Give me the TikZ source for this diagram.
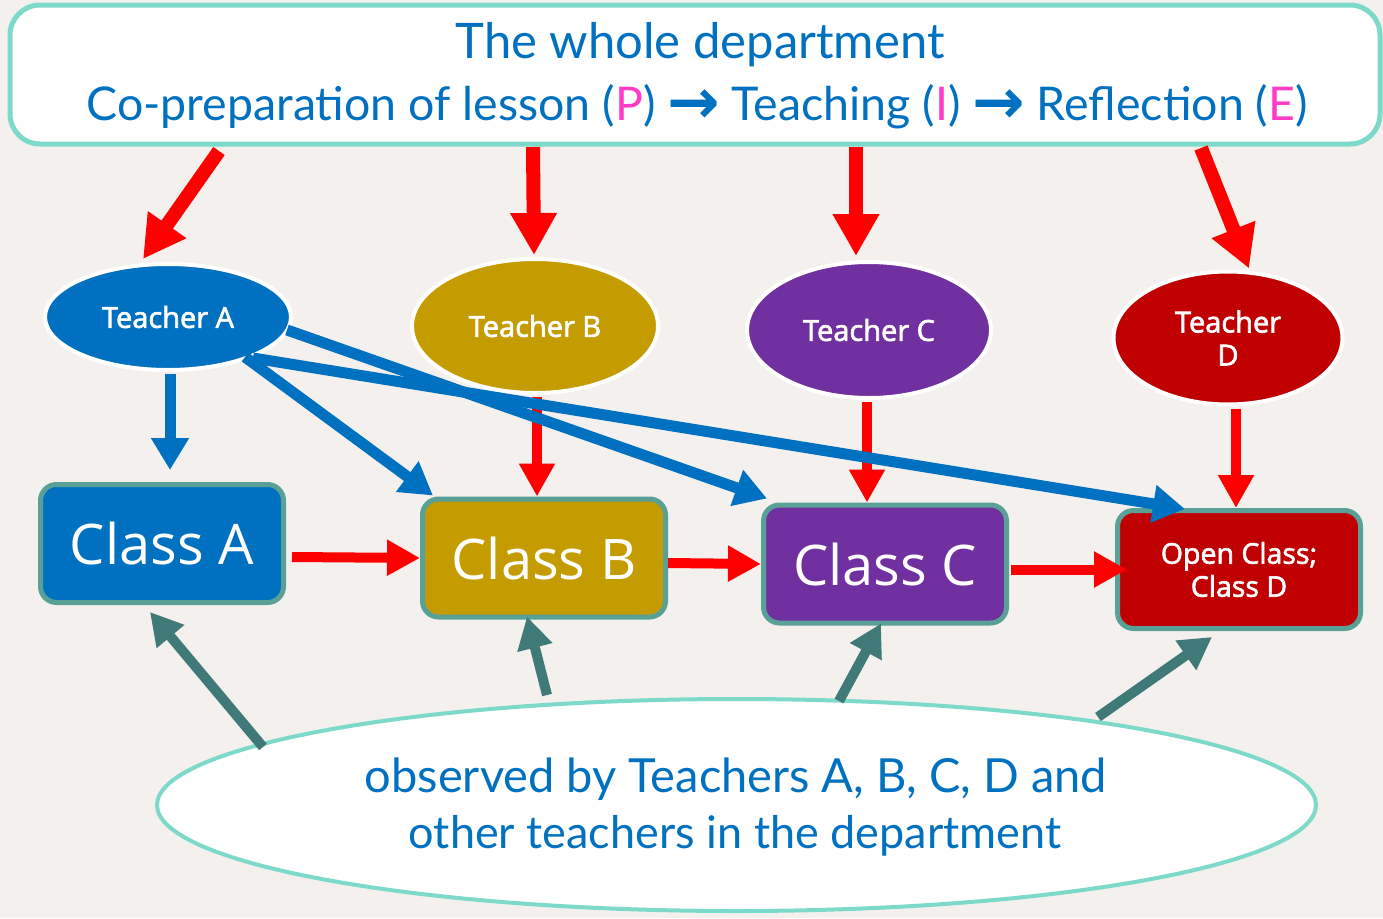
\documentclass[tikz,border=0pt]{standalone}
\usepackage{fontspec}
\setmainfont{Open Sans}
\newfontfamily\semib[FakeBold=2.2]{Open Sans}
\newfontfamily\handfont{Lato}
\newfontfamily\symfont{DejaVu Sans}
\usetikzlibrary{arrows.meta,shapes.geometric,calc}
\definecolor{bgc}{HTML}{F3F0ED}
\definecolor{frame}{HTML}{7DDACB}
\definecolor{boxedge}{HTML}{59A096}
\definecolor{tealarrow}{HTML}{407A78}
\definecolor{cblue}{HTML}{0070C0}
\definecolor{cgold}{HTML}{C49C00}
\definecolor{cpurple}{HTML}{7030A0}
\definecolor{cred}{HTML}{C00000}
\definecolor{pinkc}{HTML}{FF3CC8}
\definecolor{handblue}{HTML}{0070C0}
\definecolor{rarrow}{HTML}{FF0000}
\tikzset{
  teacher/.style={ellipse, draw=white, line width=4pt, inner sep=0pt, text=white,
    font=\semib\fontsize{29}{33}\selectfont, align=center},
  classbox/.style={rectangle, rounded corners=16pt, draw=boxedge, line width=5pt,
    minimum width=243pt, minimum height=118pt, inner sep=0pt, text=white, align=center},
  redbig/.style={draw=rarrow, line width=14pt, -{Triangle[width=44pt,length=42pt]}},
  redsmall/.style={draw=rarrow, line width=10pt, -{Triangle[width=34pt,length=33pt]}},
  bluearr/.style={draw=cblue, line width=11pt, -{Triangle[width=36pt,length=32pt]}},
  tealarr/.style={draw=tealarrow, line width=10pt, -{Triangle[width=34pt,length=32pt]}},
  hand/.style={text=handblue, inner sep=0pt, anchor=base},
}
\newcommand{\steparrow}{\raisebox{-0.08em}{\scalebox{1.35}{\symfont\bfseries →}}}
\begin{document}
\begin{tikzpicture}[x=1pt,y=-1pt]
\useasboundingbox[fill=bgc] (0,0) rectangle (1383,918);

% top frame
\node[draw=frame, line width=5pt, fill=white, rounded corners=30pt,
      minimum width=1370pt, minimum height=139pt, inner sep=0pt] (dept) at (695,74.5) {};
\node[hand, font=\handfont\fontsize{49}{54}\selectfont] (title) at (700,58) {The whole department};
\node[hand, font=\handfont\fontsize{46.5}{52}\selectfont] (steps) at (697,120)
  {Co-preparation of lesson (\textcolor{pinkc}{P}) \steparrow{} Teaching (\textcolor{pinkc}{I}) \steparrow{} Reflection (\textcolor{pinkc}{E})};

% teachers
\node[teacher, fill=cblue,   minimum width=246pt, minimum height=106pt] (tA) at (168,317) {Teacher A};
\node[teacher, fill=cgold,   minimum width=246pt, minimum height=134pt] (tB) at (535,326) {Teacher B};
\node[teacher, fill=cpurple, minimum width=244pt, minimum height=136pt] (tC) at (869,330) {Teacher C};
\node[teacher, fill=cred,    minimum width=229pt, minimum height=133pt] (tD) at (1228,338) {Teacher\\D};

% classes
\node[classbox, fill=cblue,   font=\fontsize{56}{60}\selectfont] (cA) at (162,543.5) {Class A};
\node[classbox, fill=cgold,   font=\fontsize{56}{60}\selectfont] (cB) at (544,558) {Class B};
\node[classbox, fill=cpurple, font=\fontsize{56}{60}\selectfont] (cC) at (885,564) {Class C};
\node[classbox, fill=cred,    font=\semib\fontsize{28.5}{33}\selectfont] (cD) at (1239,569.5) {Open Class;\\Class D};

% observers
\node[ellipse, draw=frame, line width=4pt, fill=white, minimum width=1159pt,
      minimum height=212pt, inner sep=0pt] (obs) at (736.5,805) {};
\node[hand, font=\handfont\fontsize{47}{52}\selectfont] (obs1) at (736,792) {observed by Teachers A, B, C, D and};
\node[hand, font=\handfont\fontsize{45}{50}\selectfont] (obs2) at (735,848) {other teachers in the department};

% red arrows from the department
\coordinate (sA) at (219,151);
\coordinate (sB) at (533,147);
\coordinate (sC) at (856,147);
\coordinate (sD) at (1201,148);
\draw[redbig] (sA) -- ($(tA.north)+(-25,-3)$);
\draw[redbig] (sB) -- ($(tB.north)+(-1,-2)$);
\draw[redbig] (sC) -- ($(tC.north)+(-13,-4)$);
\draw[redbig] (sD) -- ($(tD.north)+(21,-1)$);

% red arrows teacher -> class
\draw[redsmall] ($(tB.south)+(2,2)$) -- ($(cB.north)+(-7,0)$);
\draw[redsmall] ($(tC.south)+(-2,2)$) -- ($(cC.north)+(-18,0)$);
\draw[redsmall] ($(tD.south)+(8,2)$) -- ($(cD.north)+(-3,0)$);

% red arrows class -> class
\draw[redsmall] ($(cA.east)+(6,13.5)$) -- (cB.west);
\draw[redsmall] ($(cB.east)+(0,5)$) -- (cC.west);
\draw[redsmall] ($(cC.east)+(2,5.5)$) -- ($(cD.west)+(12,0)$);

% blue arrows from teacher A
\draw[bluearr] ($(tA.south)+(2,2)$) -- ($(cA.north)+(8,-12)$);
\draw[bluearr] ($(tA.center)+(77,40)$) -- ($(cB.north west)+(13,-1)$);
\draw[bluearr] ($(tA.center)+(119,13)$) -- ($(cC.north west)+(6,-4)$);
\draw[bluearr] ($(tA.center)+(85,41)$) -- ($(cD.north west)+(70,1)$);

% teal arrows from observers
\coordinate (oA) at (263,747);
\coordinate (oB) at (547,695);
\coordinate (oC) at (839,701);
\coordinate (oD) at (1098,717);
\draw[tealarr] (oA) -- ($(cA.south west)+(112,7)$);
\draw[tealarr] (oB) -- ($(cB.south west)+(107,-3)$);
\draw[tealarr] (oC) -- ($(cC.south west)+(120,-2)$);
\draw[tealarr] (oD) -- ($(cD.south west)+(97,6)$);
\end{tikzpicture}
\end{document}
